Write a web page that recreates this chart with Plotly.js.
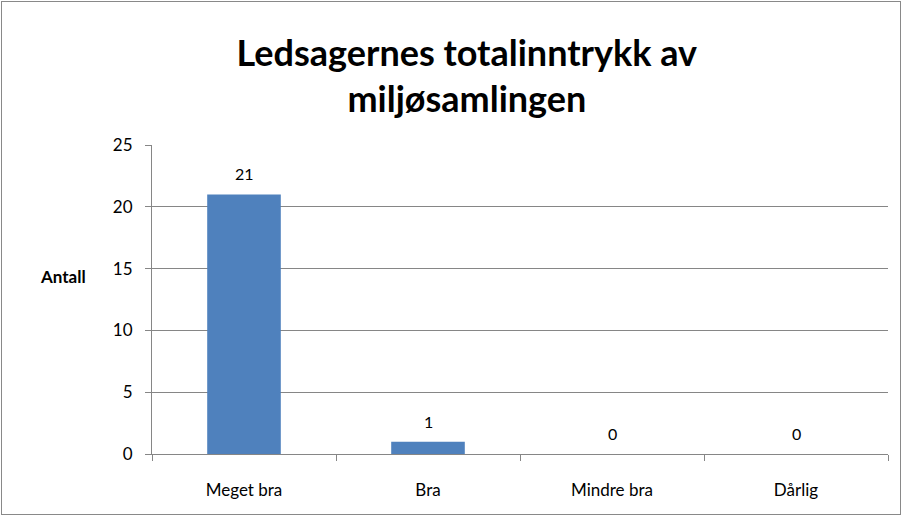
<!DOCTYPE html>
<html><head><meta charset="utf-8">
<script src="https://cdn.plot.ly/plotly-3.0.1.min.js"></script>
<style>
html,body{margin:0;padding:0;background:#fff;}
#wrap{position:absolute;left:1px;top:1px;width:900px;height:514px;border:1px solid #898989;box-sizing:border-box;}
#chart{position:absolute;left:-2px;top:-2px;width:903px;height:517px;}
</style>
</head><body>
<div id="wrap"><div id="chart"></div></div>
<script>
const categories = ["Meget bra", "Bra", "Mindre bra", "Dårlig"];
const values = [21, 1, 0, 0];
const titleText = "Ledsagernes totalinntrykk av<br>miljøsamlingen";
const yTitle = "Antall";
const font = "Lato, 'Open Sans', sans-serif";

const trace = {
  type: "bar",
  x: categories,
  y: values,
  width: 0.4,
  marker: {color: "#4F81BD", line: {width: 0}},
  hoverinfo: "x+y"
};

const labelAnnots = categories.map((c, i) => ({
  x: c, y: values[i], xref: "x", yref: "y",
  text: String(values[i]), showarrow: false,
  xanchor: "center", yanchor: "bottom", yshift: 9,
  font: {family: font, size: 16, color: "#000"}
}));

const layout = {
  width: 903, height: 517,
  margin: {l: 152, r: 15, t: 145, b: 63},
  paper_bgcolor: "rgba(0,0,0,0)",
  plot_bgcolor: "#fff",
  showlegend: false,
  font: {family: font, color: "#000"},
  title: {text: titleText, font: {family: font, size: 36, color: "#000", weight: "bold"},
          x: 0.517, xanchor: "center", y: 0.873, yanchor: "middle"},
  xaxis: {
    type: "category",
    showline: true, linecolor: "#868686", linewidth: 1,
    ticks: "outside", tickson: "boundaries", ticklen: 6, tickcolor: "#868686",
    ticklabelstandoff: 21,
    tickfont: {family: font, size: 17, color: "#000"},
    showgrid: false, zeroline: false
  },
  yaxis: {
    range: [0, 25], dtick: 5,
    showline: true, linecolor: "#868686", linewidth: 1,
    ticks: "outside", ticklen: 6, tickcolor: "#868686",
    ticklabelstandoff: 9,
    tickfont: {family: font, size: 17, color: "#000"},
    showgrid: true, gridcolor: "#868686", gridwidth: 1,
    zeroline: false
  },
  annotations: labelAnnots.concat([{
    text: "<b>" + yTitle + "</b>", xref: "paper", yref: "paper",
    x: -0.121, y: 0.576, xanchor: "center", yanchor: "middle",
    showarrow: false, font: {family: font, size: 17, color: "#000"}
  }])
};

Plotly.newPlot("chart", [trace], layout, {displayModeBar: false, staticPlot: true});
</script>
</body></html>
